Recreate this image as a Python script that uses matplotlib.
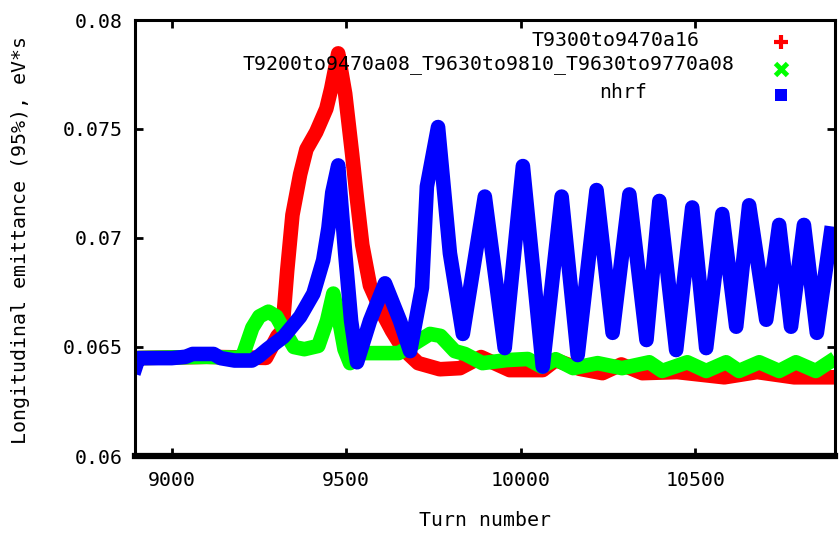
import numpy as np
import matplotlib
matplotlib.use('Agg')
import matplotlib.pyplot as plt

# gnuplot's pixel font is fixed-width, so a mono face fits best
plt.rcParams['font.family'] = ['DejaVu Sans Mono', 'DejaVu Sans']

# red: T9300to9470a16
turn_a = [8897, 9100, 9270, 9303, 9317, 9331, 9346, 9368, 9386, 9414, 9443, 9457,
          9477, 9497, 9517, 9531, 9546, 9568, 9600, 9631, 9663, 9706, 9768, 9826,
          9886, 9968, 10063, 10100, 10168, 10234, 10288, 10348, 10448, 10583,
          10677, 10783, 10897]
emit_a = [0.06449, 0.06455, 0.0645, 0.0655, 0.06574, 0.06852, 0.07106, 0.07292,
          0.07407, 0.07486, 0.07593, 0.07685, 0.07847, 0.07662, 0.07384, 0.07176,
          0.06968, 0.06782, 0.06667, 0.06574, 0.06491, 0.06426, 0.06398, 0.06403,
          0.06454, 0.06394, 0.06394, 0.0644, 0.064, 0.0638, 0.0642, 0.0638,
          0.06385, 0.06361, 0.06385, 0.06361, 0.06361]

# green: T9200to9470a08_T9630to9810_T9630to9770a08
turn_b = [8897, 9100, 9200, 9208, 9231, 9251, 9277, 9300, 9323, 9350, 9380, 9420,
          9445, 9463, 9480, 9495, 9511, 9540, 9600, 9650, 9700, 9740, 9770, 9811,
          9840, 9890, 9960, 10020, 10060, 10100, 10150, 10220, 10290, 10368,
          10405, 10477, 10531, 10588, 10625, 10683, 10740, 10788, 10845, 10883]
emit_b = [0.06449, 0.06455, 0.0645, 0.06481, 0.06588, 0.0664, 0.06662, 0.0664,
          0.06574, 0.065, 0.0649, 0.06505, 0.0662, 0.06745, 0.0662, 0.0649,
          0.06426, 0.06472, 0.06472, 0.06472, 0.0652, 0.0656, 0.06551, 0.06481,
          0.06468, 0.06426, 0.0644, 0.06445, 0.0641, 0.06444, 0.06403, 0.06426,
          0.06403, 0.0643, 0.0639, 0.0643, 0.0639, 0.0643, 0.0639, 0.0643,
          0.0639, 0.0643, 0.0639, 0.0643]

# blue: nhrf
turn_c = [8897, 8905, 9000, 9040, 9060, 9120, 9140, 9180, 9230, 9250, 9274, 9320,
          9368, 9406, 9434, 9449, 9460, 9477, 9497, 9514, 9531, 9568, 9611, 9654,
          9683, 9717, 9731, 9763, 9797, 9834, 9897, 9954, 10006, 10063, 10117,
          10163, 10217, 10263, 10311, 10360, 10397, 10445, 10491, 10531, 10577,
          10617, 10654, 10703, 10740, 10774, 10811, 10848, 10888]
emit_c = [0.0641, 0.06449, 0.06449, 0.06455, 0.06468, 0.06468, 0.06449, 0.06438,
          0.06438, 0.06458, 0.0649, 0.06546, 0.06639, 0.06745, 0.06898, 0.07046,
          0.07208, 0.07333, 0.06931, 0.0662, 0.0643, 0.0662, 0.06792, 0.0662,
          0.06481, 0.06773, 0.07236, 0.07509, 0.0693, 0.0656, 0.0719, 0.06495,
          0.0733, 0.0641, 0.0719, 0.06463, 0.0722, 0.06565, 0.072, 0.06532,
          0.0717, 0.06486, 0.0714, 0.06495, 0.0711, 0.06593, 0.0715, 0.06625,
          0.0706, 0.06593, 0.0706, 0.06565, 0.0702]

labels = ['T9300to9470a16', 'T9200to9470a08_T9630to9810_T9630to9770a08', 'nhrf']
colors = ['#ff0000', '#00ff00', '#0000ff']

fs = 14.3

fig = plt.figure(figsize=(8.39, 5.33), dpi=100)
ax = fig.add_axes([135/839, 1-456/533, 700/839, 436/533])

lw = 10.5
ax.plot(turn_a, emit_a, color=colors[0], lw=lw)
ax.plot(turn_b, emit_b, color=colors[1], lw=lw)
ax.plot(turn_c, emit_c, color=colors[2], lw=lw)

ax.set_xlim(8895, 10900)
ax.set_ylim(0.06, 0.08)
ax.set_xticks([9000, 9500, 10000, 10500])
ax.set_yticks([0.06, 0.065, 0.07, 0.075, 0.08])
ax.set_yticklabels(['0.06', '0.065', '0.07', '0.075', '0.08'])
ax.tick_params(direction='in', length=6, width=2, labelsize=fs,
               top=True, right=True)
ax.tick_params(axis='y', pad=9)
ax.tick_params(axis='x', pad=11)
for s in ['top', 'left', 'right']:
    ax.spines[s].set_linewidth(2.2)
ax.spines['bottom'].set_linewidth(4.5)

ax.set_xlabel('Turn number', fontsize=fs, va='center')
ax.xaxis.set_label_coords(0.5, -0.147)
ax.set_ylabel('Longitudinal emittance (95%), eV*s', fontsize=fs, va='center')
ax.yaxis.set_label_coords(-0.164, 0.495)

# key, gnuplot style: text then sample on the right
key_x = [0.807, 0.857, 0.731]
key_y = [0.954, 0.897, 0.833]
for i in range(3):
    ax.text(key_x[i], key_y[i], labels[i], fontsize=fs, ha='right', va='center',
            transform=ax.transAxes)
ax.plot([0.923], [0.950], marker='+', color=colors[0], ms=10, mew=3,
        transform=ax.transAxes, clip_on=False)
ax.plot([0.923], [0.888], marker='x', color=colors[1], ms=8, mew=3.5,
        transform=ax.transAxes, clip_on=False)
ax.plot([0.923], [0.828], marker='s', color=colors[2], ms=9, mew=0,
        transform=ax.transAxes, clip_on=False)

fig.savefig('out.png', dpi=100)
